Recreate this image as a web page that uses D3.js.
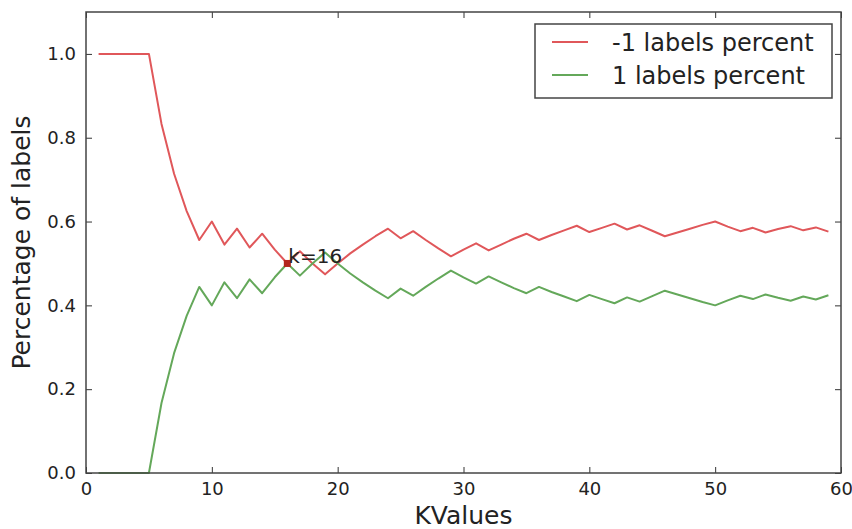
<!DOCTYPE html>
<html>
<head>
<meta charset="utf-8">
<script src="https://cdn.jsdelivr.net/npm/d3@7"></script>
<style>
    body { margin: 0; background: white; }
    svg { display: block; font-family: "DejaVu Sans", sans-serif; }
</style>
</head>
<body>
<div id="chart"></div>
<script>
// K values 1..59
const kValues = d3.range(1, 60);

// share of -1 labels among the k nearest neighbours
const negPercent = [
    1.0, 1.0, 1.0, 1.0, 1.0, 0.833, 0.714, 0.625, 0.556, 0.600,
    0.545, 0.583, 0.538, 0.571, 0.533, 0.500, 0.529, 0.500, 0.474, 0.500,
    0.524, 0.545, 0.565, 0.583, 0.560, 0.577, 0.556, 0.536, 0.517, 0.533,
    0.548, 0.531, 0.545, 0.559, 0.571, 0.556, 0.568, 0.579, 0.590, 0.575,
    0.585, 0.595, 0.581, 0.591, 0.578, 0.565, 0.574, 0.583, 0.592, 0.600,
    0.588, 0.577, 0.585, 0.574, 0.582, 0.589, 0.579, 0.586, 0.576
];
// share of 1 labels
const posPercent = [
    0.0, 0.0, 0.0, 0.0, 0.0, 0.167, 0.286, 0.375, 0.444, 0.400,
    0.455, 0.417, 0.462, 0.429, 0.467, 0.500, 0.471, 0.500, 0.526, 0.500,
    0.476, 0.455, 0.435, 0.417, 0.440, 0.423, 0.444, 0.464, 0.483, 0.467,
    0.452, 0.469, 0.455, 0.441, 0.429, 0.444, 0.432, 0.421, 0.410, 0.425,
    0.415, 0.405, 0.419, 0.409, 0.422, 0.435, 0.426, 0.417, 0.408, 0.400,
    0.412, 0.423, 0.415, 0.426, 0.418, 0.411, 0.421, 0.414, 0.424
];

const xTicks = [0, 10, 20, 30, 40, 50, 60];
const yTicks = [0.0, 0.2, 0.4, 0.6, 0.8, 1.0];
const seriesNames = ['-1 labels percent', '1 labels percent'];
const seriesColors = ['#e0575a', '#64a85a'];
const markK = 16, markValue = 0.5;

const width = 852, height = 529;
const plotLeft = 86, plotRight = 841, plotTop = 12, plotBottom = 473;

const svg = d3.select('#chart').append('svg')
    .attr('width', width)
    .attr('height', height);

const x = d3.scaleLinear().domain([0, 60]).range([plotLeft, plotRight]);
const y = d3.scaleLinear().domain([0, 1.1]).range([plotBottom, plotTop]);

const tickColor = '#333';
const tickLen = 6;

// axes, classic matplotlib style: ticks inside on all four sides
svg.append('g')
    .attr('transform', `translate(0,${plotBottom})`)
    .call(d3.axisBottom(x).tickValues(xTicks).tickFormat(d3.format('d')).tickSizeInner(-tickLen).tickSizeOuter(0).tickPadding(9));
svg.append('g')
    .attr('transform', `translate(0,${plotTop})`)
    .call(d3.axisTop(x).tickValues(xTicks).tickFormat('').tickSizeInner(-tickLen).tickSizeOuter(0));
svg.append('g')
    .attr('transform', `translate(${plotLeft},0)`)
    .call(d3.axisLeft(y).tickValues(yTicks).tickFormat(d3.format('.1f')).tickSizeInner(-tickLen).tickSizeOuter(0).tickPadding(10));
svg.append('g')
    .attr('transform', `translate(${plotRight},0)`)
    .call(d3.axisRight(y).tickValues(yTicks).tickFormat('').tickSizeInner(-tickLen).tickSizeOuter(0));

svg.selectAll('.domain').remove();
svg.selectAll('.tick line').attr('stroke', tickColor).attr('stroke-width', 1);
svg.selectAll('.tick text')
    .attr('fill', '#222')
    .style('font-size', '18px')
    .style('font-family', '"DejaVu Sans", sans-serif');

// lines
const line = d3.line()
    .x((d, i) => x(kValues[i]))
    .y(d => y(d));

[negPercent, posPercent].forEach((series, i) => {
    svg.append('path')
        .datum(series)
        .attr('fill', 'none')
        .attr('stroke', seriesColors[i])
        .attr('stroke-width', 2)
        .attr('stroke-linejoin', 'round')
        .attr('d', line);
});

// crossing point annotation
svg.append('rect')
    .attr('x', x(markK) - 3.5)
    .attr('y', y(markValue) - 3.5)
    .attr('width', 7)
    .attr('height', 7)
    .attr('fill', '#b3261e');
svg.append('text')
    .attr('x', x(markK) + 1)
    .attr('y', y(markValue))
    .attr('fill', '#222')
    .style('font-size', '20px')
    .text('k=' + markK);

// frame
svg.append('rect')
    .attr('x', plotLeft)
    .attr('y', plotTop)
    .attr('width', plotRight - plotLeft)
    .attr('height', plotBottom - plotTop)
    .attr('fill', 'none')
    .attr('stroke', '#444')
    .attr('stroke-width', 1.5);

// axis labels
svg.append('text')
    .attr('x', (plotLeft + plotRight) / 2)
    .attr('y', 524)
    .attr('text-anchor', 'middle')
    .attr('fill', '#222')
    .style('font-size', '25px')
    .text('KValues');
svg.append('text')
    .attr('transform', `translate(30,${(plotTop + plotBottom) / 2}) rotate(-90)`)
    .attr('text-anchor', 'middle')
    .attr('fill', '#222')
    .style('font-size', '25px')
    .text('Percentage of labels');

// legend
const legend = svg.append('g');
legend.append('rect')
    .attr('x', 535)
    .attr('y', 24)
    .attr('width', 297)
    .attr('height', 74)
    .attr('fill', 'white')
    .attr('stroke', '#444')
    .attr('stroke-width', 1.5);
seriesNames.forEach((name, i) => {
    const ly = 42 + i * 33;
    legend.append('line')
        .attr('x1', 552).attr('x2', 588)
        .attr('y1', ly).attr('y2', ly)
        .attr('stroke', seriesColors[i])
        .attr('stroke-width', 2);
    legend.append('text')
        .attr('x', 612)
        .attr('y', ly + 9)
        .attr('fill', '#222')
        .style('font-size', '24px')
        .text(name);
});
</script>
</body>
</html>
